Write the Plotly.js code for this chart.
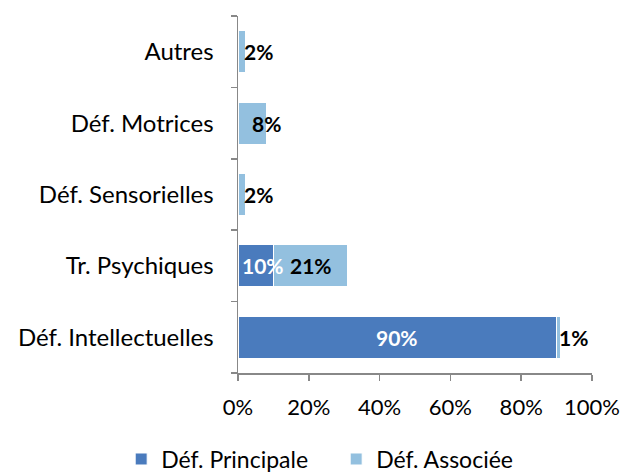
<!DOCTYPE html>
<html>
<head>
<meta charset="utf-8">
<script src="https://cdn.plot.ly/plotly-3.0.1.min.js"></script>
<style>html,body{margin:0;padding:0;background:#fff;}#chart{width:624px;height:473px;}</style>
</head>
<body>
<div id="chart"></div>
<script>
const categories = ["Déf. Intellectuelles", "Tr. Psychiques", "Déf. Sensorielles", "Déf. Motrices", "Autres"];
const principale = [90, 10, 0, 0, 0];
const associee = [1, 21, 2, 8, 2];
const seriesNames = ["Déf. Principale", "Déf. Associée"];
const xTicks = [0, 20, 40, 60, 80, 100];

const darkBlue = "#4a7bbd";
const lightBlue = "#93c0df";
const font = "Lato, 'Open Sans', sans-serif";

const traces = [
  {type: "bar", orientation: "h", name: seriesNames[0], y: categories, x: principale,
   marker: {color: darkBlue, line: {color: "#ffffff", width: 1}}, hoverinfo: "none"},
  {type: "bar", orientation: "h", name: seriesNames[1], y: categories, x: associee,
   marker: {color: lightBlue, line: {color: "#ffffff", width: 1}}, hoverinfo: "none"}
];

const annotations = [];
categories.forEach((c, i) => {
  const p = principale[i], a = associee[i];
  if (p > 0) {
    const small = p < 15;
    annotations.push({x: small ? 0 : p / 2, y: c, xref: "x", yref: "y",
      text: "<b>" + p + "%</b>", showarrow: false,
      xanchor: small ? "left" : "center", xshift: small ? 2 : 0,
      font: {family: font, size: 21, color: "#ffffff"}});
  }
  if (a > 0) {
    let x, anchor;
    if (a < 5) { x = p + a; anchor = "left"; }
    else if (a < 12) { x = p + a; anchor = "center"; }
    else { x = p + a / 2; anchor = "center"; }
    annotations.push({x: x, y: c, xref: "x", yref: "y",
      text: "<b>" + a + "%</b>", showarrow: false, xanchor: anchor,
      xshift: a < 5 ? -3 : 0,
      font: {family: font, size: 21, color: "#000000"}});
  }
});

const layout = {
  width: 624, height: 473,
  margin: {l: 238, r: 32, t: 16, b: 100, autoexpand: false},
  barmode: "stack",
  bargap: 0.41,
  paper_bgcolor: "#ffffff", plot_bgcolor: "#ffffff",
  font: {family: font, size: 24, color: "#000000"},
  showlegend: true,
  legend: {orientation: "h", x: -0.33, xanchor: "left", y: -0.241, yanchor: "middle",
           font: {family: font, size: 23}, traceorder: "normal", itemwidth: 30,
           entrywidth: 170, entrywidthmode: "pixels"},
  xaxis: {range: [0, 100], tickvals: xTicks, ticktext: xTicks.map(v => v + "%"),
          showgrid: false, zeroline: false, showline: true, linecolor: "#888888", linewidth: 1.5,
          ticks: "outside", ticklen: 6, tickcolor: "#888888", tickwidth: 1.5,
          ticklabelstandoff: 8,
          tickfont: {family: font, size: 22}, fixedrange: true},
  yaxis: {type: "category", categoryorder: "array", categoryarray: categories,
          showgrid: false, zeroline: false, showline: true, linecolor: "#888888", linewidth: 1.5,
          ticks: "outside", tickson: "boundaries", ticklen: 6, tickcolor: "#888888", tickwidth: 1.5,
          ticklabelstandoff: 18,
          tickfont: {family: font, size: 24}, fixedrange: true},
  annotations: annotations
};

Plotly.newPlot("chart", traces, layout, {displayModeBar: false, staticPlot: true});
</script>
</body>
</html>
